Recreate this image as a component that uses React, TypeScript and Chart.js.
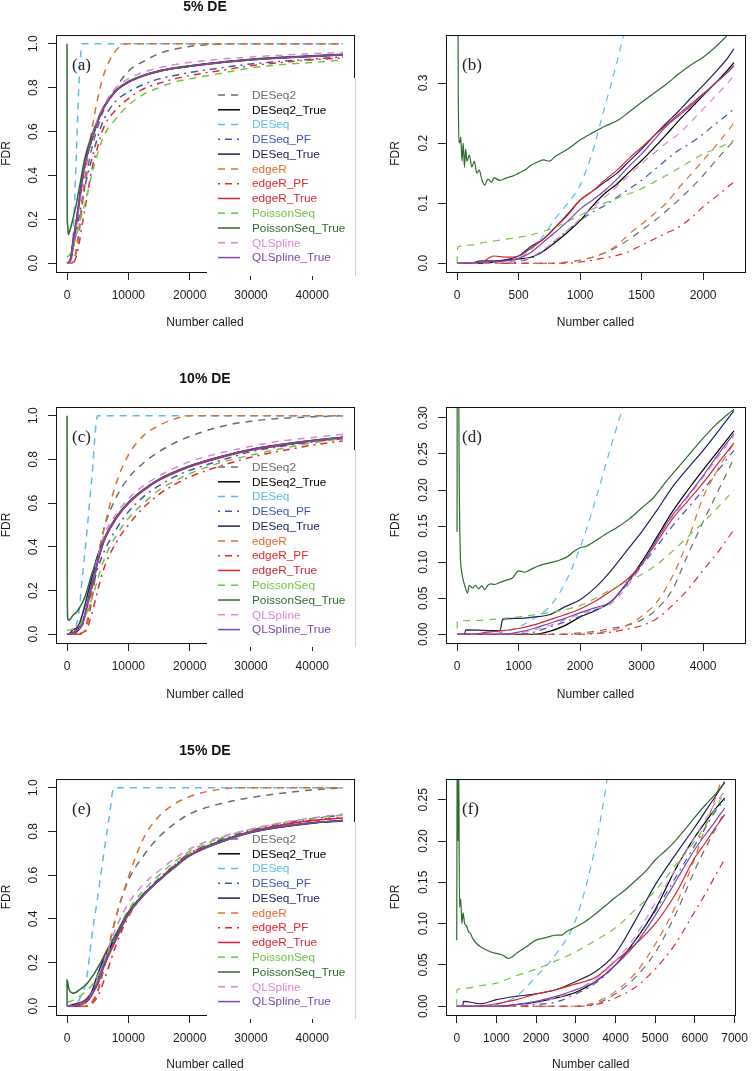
import React, { useEffect, useRef } from "react";
import { Chart, registerables } from "chart.js";

Chart.register(...registerables);
Chart.defaults.font.family = '"Liberation Sans", Arial, sans-serif';

// ---------- series names & styles ----------
const SERIES_NAMES = ["DESeq2", "DESeq2_True", "DESeq", "DESeq_PF", "DESeq_True", "edgeR", "edgeR_PF", "edgeR_True", "PoissonSeq", "PoissonSeq_True", "QLSpline", "QLSpline_True"];
const SERIES_COLORS = ["#6b6b6b", "#000000", "#5bbce8", "#3d56b2", "#1d2157", "#e26b2e", "#e8262c", "#d9252b", "#6cc644", "#2e6b30", "#dc84d8", "#7b48aa"];
const SERIES_STYLE = ["dash", "solid", "dash", "dotdash", "solid", "dash", "dotdash", "solid", "dash", "solid", "dash", "solid"];

// ---------- tick values ----------
const LEFT_X_TICKS = [0, 10000, 20000, 30000, 40000];
const LEFT_Y_TICKS = [0, 0.2, 0.4, 0.6, 0.8, 1.0];
const B_X_TICKS = [0, 500, 1000, 1500, 2000];
const B_Y_TICKS = [0, 0.1, 0.2, 0.3];
const D_X_TICKS = [0, 1000, 2000, 3000, 4000];
const D_Y_TICKS = [0, 0.05, 0.1, 0.15, 0.2, 0.25, 0.3];
const F_X_TICKS = [0, 1000, 2000, 3000, 4000, 5000, 6000, 7000];
const F_Y_TICKS = [0, 0.05, 0.1, 0.15, 0.2, 0.25];

// ---------- shared x grids ----------
const L_X = [0, 500, 1000, 1500, 2000, 2500, 3000, 4000, 5000, 6000, 8000, 10000, 12500, 15000, 17500, 20000, 25000, 30000, 35000, 40000, 45000];
const B_X = [0, 100, 200, 300, 400, 500, 600, 700, 800, 900, 1000, 1100, 1200, 1300, 1400, 1500, 1600, 1700, 1800, 1900, 2000, 2100, 2200, 2250];
const D_X = [0, 250, 500, 750, 1000, 1250, 1500, 1750, 2000, 2250, 2500, 2750, 3000, 3250, 3500, 3750, 4000, 4250, 4500];
const F_X = [0, 250, 500, 750, 1000, 1500, 2000, 2500, 3000, 3500, 4000, 4500, 5000, 5500, 6000, 6250, 6500, 6750];

// ---------- panel (a): 5% DE ----------
const a_DESeq2 = [0, 0, 0.005, 0.05, 0.146, 0.27, 0.37, 0.52, 0.62, 0.7, 0.8, 0.875, 0.92, 0.955, 0.975, 0.988, 0.998, 1, 1, 1, 1];
const a_DESeq2_True = [0, 0.01, 0.071, 0.171, 0.279, 0.38, 0.46, 0.56, 0.645, 0.71, 0.785, 0.825, 0.855, 0.875, 0.888, 0.898, 0.915, 0.927, 0.936, 0.943, 0.95];
const a_DESeq = [0, 0.008, 0.13, 0.48, 0.85, 1, 1, 1, 1, 1, 1, 1, 1, 1, 1, 1, 1, 1, 1, 1, 1];
const a_DESeq_PF = [0, 0.003, 0.071, 0.138, 0.215, 0.29, 0.36, 0.47, 0.575, 0.655, 0.74, 0.78, 0.815, 0.84, 0.855, 0.869, 0.89, 0.908, 0.92, 0.93, 0.94];
const a_DESeq_True = [0, 0.012, 0.105, 0.19, 0.296, 0.4, 0.475, 0.565, 0.648, 0.712, 0.787, 0.826, 0.856, 0.876, 0.889, 0.899, 0.916, 0.928, 0.937, 0.944, 0.951];
const a_edgeR = [0, 0, 0.005, 0.065, 0.171, 0.3, 0.41, 0.6, 0.75, 0.86, 0.97, 1, 1, 1, 1, 1, 1, 1, 1, 1, 1];
const a_edgeR_PF = [0, 0, 0.002, 0.03, 0.094, 0.18, 0.26, 0.42, 0.53, 0.62, 0.7, 0.75, 0.795, 0.82, 0.84, 0.855, 0.878, 0.9, 0.915, 0.927, 0.935];
const a_edgeR_True = [0, 0.012, 0.105, 0.193, 0.282, 0.38, 0.46, 0.558, 0.645, 0.709, 0.785, 0.824, 0.854, 0.874, 0.887, 0.897, 0.914, 0.926, 0.935, 0.942, 0.949];
const a_PoissonSeq = [0.027, 0.043, 0.08, 0.124, 0.182, 0.23, 0.28, 0.4, 0.5, 0.58, 0.66, 0.72, 0.77, 0.8, 0.825, 0.84, 0.865, 0.89, 0.905, 0.915, 0.925];
const a_PoissonSeq_True_X = [0, 20, 60, 120, 225, 400, 600, 1000, 1500, 2000, 2500, 3000, 4000, 5000, 6000, 8000, 10000, 15000, 20000, 30000, 40000, 45000];
const a_PoissonSeq_True = [1.0, 0.27, 0.18, 0.17, 0.13, 0.142, 0.163, 0.205, 0.268, 0.343, 0.42, 0.49, 0.58, 0.655, 0.715, 0.788, 0.828, 0.877, 0.9, 0.93, 0.945, 0.952];
const a_QLSpline = [0, 0.004, 0.074, 0.166, 0.257, 0.36, 0.45, 0.56, 0.655, 0.72, 0.8, 0.84, 0.87, 0.89, 0.905, 0.915, 0.93, 0.94, 0.948, 0.955, 0.96];
const a_QLSpline_True = [0, 0.008, 0.09, 0.182, 0.28, 0.38, 0.46, 0.558, 0.645, 0.71, 0.786, 0.825, 0.855, 0.875, 0.888, 0.898, 0.915, 0.927, 0.936, 0.943, 0.95];

// ---------- panel (b): 5% DE zoom ----------
const b_DESeq2 = [0, 0, 0, 0, 0, 0, 0, 0, 0, 0.002, 0.005, 0.01, 0.017, 0.027, 0.04, 0.055, 0.07, 0.087, 0.105, 0.125, 0.146, 0.17, 0.193, 0.204];
const b_DESeq2_True = [0, 0, 0, 0.002, 0.005, 0.007, 0.01, 0.02, 0.035, 0.052, 0.071, 0.095, 0.116, 0.132, 0.152, 0.171, 0.192, 0.214, 0.237, 0.258, 0.279, 0.3, 0.322, 0.334];
const b_DESeq = [0, 0, 0, 0, 0, 0.008, 0.022, 0.045, 0.075, 0.1, 0.13, 0.185, 0.26, 0.335, 0.42, 0.5, 0.58, 0.66, 0.73, 0.8, 0.85, 0.92, 0.98, 1.0];
const b_DESeq_PF = [0, 0, 0, 0, 0, 0.003, 0.008, 0.02, 0.038, 0.055, 0.071, 0.085, 0.096, 0.11, 0.124, 0.138, 0.155, 0.172, 0.188, 0.2, 0.215, 0.232, 0.248, 0.257];
const b_DESeq_True = [0, 0, 0.004, 0.004, 0.006, 0.012, 0.028, 0.04, 0.06, 0.082, 0.105, 0.12, 0.135, 0.15, 0.17, 0.19, 0.212, 0.233, 0.253, 0.275, 0.296, 0.318, 0.342, 0.357];
const b_edgeR = [0, 0, 0, 0, 0, 0, 0, 0, 0, 0.002, 0.005, 0.01, 0.018, 0.03, 0.049, 0.065, 0.082, 0.1, 0.125, 0.148, 0.171, 0.195, 0.22, 0.234];
const b_edgeR_PF = [0, 0, 0, 0, 0, 0, 0, 0, 0, 0, 0.002, 0.005, 0.009, 0.013, 0.02, 0.03, 0.04, 0.05, 0.06, 0.075, 0.094, 0.11, 0.127, 0.135];
const b_edgeR_True = [0, 0, 0.002, 0.012, 0.01, 0.012, 0.025, 0.04, 0.06, 0.08, 0.105, 0.12, 0.138, 0.155, 0.175, 0.193, 0.212, 0.23, 0.248, 0.265, 0.282, 0.3, 0.318, 0.329];
const b_PoissonSeq_X = [0, 5, 100, 200, 300, 400, 500, 600, 700, 800, 900, 1000, 1100, 1200, 1300, 1400, 1500, 1600, 1700, 1800, 1900, 2000, 2100, 2250];
const b_PoissonSeq = [0, 0.027, 0.03, 0.034, 0.037, 0.04, 0.043, 0.047, 0.053, 0.06, 0.07, 0.08, 0.09, 0.1, 0.108, 0.116, 0.124, 0.135, 0.146, 0.158, 0.17, 0.182, 0.19, 0.204];
const b_PoissonSeq_True_X = [0, 5, 10, 20, 30, 40, 50, 60, 70, 80, 100, 120, 140, 160, 180, 200, 225, 250, 280, 300, 350, 400, 450, 500, 550, 600, 650, 700, 750, 800, 900, 1000, 1100, 1200, 1300, 1400, 1500, 1600, 1700, 1800, 1900, 2000, 2100, 2200, 2250];
const b_PoissonSeq_True = [1.0, 0.6, 0.27, 0.2, 0.21, 0.17, 0.2, 0.16, 0.19, 0.17, 0.18, 0.16, 0.17, 0.15, 0.155, 0.14, 0.13, 0.14, 0.135, 0.142, 0.138, 0.142, 0.145, 0.15, 0.155, 0.163, 0.168, 0.172, 0.17, 0.178, 0.19, 0.205, 0.217, 0.228, 0.237, 0.252, 0.268, 0.283, 0.298, 0.315, 0.33, 0.343, 0.36, 0.38, 0.39];
const b_QLSpline = [0, 0, 0, 0, 0.002, 0.004, 0.01, 0.022, 0.038, 0.055, 0.074, 0.092, 0.11, 0.128, 0.147, 0.166, 0.183, 0.2, 0.215, 0.235, 0.257, 0.278, 0.3, 0.312];
const b_QLSpline_True = [0, 0, 0.002, 0.003, 0.004, 0.008, 0.018, 0.035, 0.052, 0.07, 0.09, 0.105, 0.121, 0.14, 0.162, 0.182, 0.205, 0.228, 0.245, 0.262, 0.28, 0.3, 0.318, 0.329];

// ---------- panel (c): 10% DE ----------
const c_DESeq2 = [0, 0, 0, 0, 0.003, 0.008, 0.02, 0.15, 0.34, 0.48, 0.625, 0.715, 0.785, 0.835, 0.875, 0.905, 0.95, 0.975, 0.988, 0.995, 1.0];
const c_DESeq2_True = [0, 0, 0, 0.01, 0.024, 0.045, 0.1, 0.225, 0.335, 0.425, 0.53, 0.6, 0.66, 0.707, 0.74, 0.768, 0.81, 0.844, 0.866, 0.885, 0.9];
const c_DESeq = [0, 0.002, 0.01, 0.038, 0.12, 0.26, 0.4, 0.7, 1, 1, 1, 1, 1, 1, 1, 1, 1, 1, 1, 1, 1];
const c_DESeq_PF = [0, 0, 0, 0.01, 0.025, 0.045, 0.095, 0.2, 0.3, 0.375, 0.48, 0.56, 0.63, 0.68, 0.72, 0.75, 0.795, 0.835, 0.86, 0.88, 0.895];
const c_DESeq_True = [0, 0.005, 0.022, 0.027, 0.048, 0.09, 0.142, 0.255, 0.36, 0.435, 0.535, 0.603, 0.663, 0.709, 0.742, 0.77, 0.812, 0.846, 0.868, 0.887, 0.902];
const c_edgeR = [0, 0, 0, 0, 0, 0.005, 0.025, 0.19, 0.35, 0.48, 0.69, 0.82, 0.91, 0.955, 0.985, 1, 1, 1, 1, 1, 1];
const c_edgeR_PF = [0, 0, 0, 0, 0, 0.003, 0.012, 0.089, 0.2, 0.3, 0.42, 0.5, 0.58, 0.64, 0.685, 0.72, 0.77, 0.81, 0.84, 0.865, 0.885];
const c_edgeR_True = [0, 0.003, 0.008, 0.02, 0.035, 0.06, 0.097, 0.21, 0.33, 0.425, 0.528, 0.598, 0.658, 0.705, 0.738, 0.766, 0.808, 0.842, 0.864, 0.883, 0.898];
const c_PoissonSeq = [0.018, 0.02, 0.024, 0.03, 0.04, 0.062, 0.085, 0.16, 0.25, 0.34, 0.45, 0.53, 0.6, 0.66, 0.7, 0.735, 0.785, 0.82, 0.85, 0.875, 0.895];
const c_PoissonSeq_True_X = [0, 30, 100, 200, 500, 1000, 1500, 2000, 2500, 3000, 3500, 4000, 4500, 5000, 6000, 8000, 10000, 15000, 20000, 30000, 40000, 45000];
const c_PoissonSeq_True = [1.0, 0.3, 0.075, 0.065, 0.068, 0.088, 0.099, 0.12, 0.144, 0.177, 0.223, 0.272, 0.312, 0.36, 0.435, 0.535, 0.603, 0.709, 0.77, 0.846, 0.887, 0.902];
const c_QLSpline = [0, 0, 0.002, 0.012, 0.028, 0.042, 0.095, 0.218, 0.35, 0.45, 0.55, 0.62, 0.68, 0.725, 0.76, 0.79, 0.83, 0.86, 0.885, 0.9, 0.915];
const c_QLSpline_True = [0, 0, 0.003, 0.015, 0.03, 0.045, 0.097, 0.22, 0.335, 0.43, 0.532, 0.601, 0.661, 0.708, 0.741, 0.769, 0.811, 0.845, 0.867, 0.886, 0.901];

// ---------- panel (d): 10% DE zoom ----------
const d_DESeq2 = [0, 0, 0, 0, 0, 0, 0, 0, 0.002, 0.004, 0.008, 0.012, 0.02, 0.035, 0.062, 0.11, 0.156, 0.2, 0.244];
const d_DESeq2_True = [0, 0, 0, 0, 0, 0, 0.004, 0.012, 0.024, 0.033, 0.045, 0.07, 0.1, 0.135, 0.17, 0.2, 0.228, 0.255, 0.282];
const d_DESeq = [0, 0, 0, 0.003, 0.01, 0.022, 0.038, 0.07, 0.12, 0.186, 0.26, 0.33, 0.4, 0.48, 0.55, 0.63, 0.7, 0.78, 0.85];
const d_DESeq_PF = [0, 0, 0, 0, 0, 0.003, 0.01, 0.017, 0.025, 0.034, 0.045, 0.068, 0.095, 0.122, 0.15, 0.175, 0.2, 0.228, 0.255];
const d_DESeq_True_X = [0, 120, 140, 700, 730, 760, 1000, 1250, 1500, 1750, 2000, 2250, 2500, 2750, 3000, 3250, 3500, 3750, 4000, 4250, 4500];
const d_DESeq_True = [0, 0, 0.006, 0.005, 0.018, 0.021, 0.022, 0.024, 0.027, 0.038, 0.048, 0.065, 0.088, 0.115, 0.142, 0.172, 0.204, 0.23, 0.255, 0.282, 0.31];
const d_edgeR = [0, 0, 0, 0, 0, 0, 0, 0, 0, 0.002, 0.005, 0.012, 0.025, 0.045, 0.08, 0.13, 0.19, 0.23, 0.265];
const d_edgeR_PF = [0, 0, 0, 0, 0, 0, 0, 0, 0, 0.001, 0.003, 0.007, 0.012, 0.022, 0.04, 0.062, 0.089, 0.115, 0.145];
const d_edgeR_True = [0, 0, 0.003, 0.005, 0.008, 0.013, 0.02, 0.027, 0.035, 0.046, 0.06, 0.075, 0.097, 0.128, 0.16, 0.185, 0.21, 0.238, 0.265];
const d_PoissonSeq_X = [0, 5, 250, 500, 750, 1000, 1250, 1500, 1750, 2000, 2250, 2500, 2750, 3000, 3250, 3500, 3750, 4000, 4250, 4500];
const d_PoissonSeq = [0.008, 0.018, 0.019, 0.02, 0.022, 0.024, 0.027, 0.03, 0.034, 0.04, 0.05, 0.062, 0.072, 0.083, 0.097, 0.115, 0.135, 0.155, 0.177, 0.2];
const d_PoissonSeq_True_X = [0, 10, 30, 50, 70, 100, 130, 170, 200, 250, 300, 350, 400, 450, 500, 550, 600, 700, 800, 900, 1000, 1100, 1200, 1300, 1400, 1500, 1600, 1700, 1800, 1900, 2000, 2100, 2200, 2400, 2600, 2800, 3000, 3200, 3400, 3600, 3800, 4000, 4200, 4400, 4500];
const d_PoissonSeq_True = [0.142, 1.0, 0.3, 0.12, 0.09, 0.075, 0.066, 0.057, 0.068, 0.064, 0.068, 0.063, 0.067, 0.062, 0.068, 0.07, 0.069, 0.072, 0.075, 0.078, 0.088, 0.086, 0.09, 0.094, 0.097, 0.099, 0.101, 0.104, 0.108, 0.115, 0.12, 0.122, 0.127, 0.138, 0.148, 0.16, 0.175, 0.19, 0.212, 0.232, 0.252, 0.272, 0.29, 0.305, 0.312];
const d_QLSpline = [0, 0, 0, 0, 0.002, 0.006, 0.012, 0.02, 0.028, 0.035, 0.042, 0.065, 0.095, 0.13, 0.163, 0.19, 0.218, 0.247, 0.275];
const d_QLSpline_True = [0, 0, 0, 0, 0.003, 0.008, 0.015, 0.022, 0.03, 0.037, 0.045, 0.07, 0.097, 0.132, 0.165, 0.192, 0.22, 0.25, 0.278];

// ---------- panel (e): 15% DE ----------
const e_DESeq2 = [0, 0, 0, 0, 0, 0, 0, 0.015, 0.065, 0.17, 0.41, 0.576, 0.69, 0.775, 0.835, 0.88, 0.927, 0.955, 0.975, 0.99, 1.0];
const e_DESeq2_True = [0, 0, 0, 0.002, 0.005, 0.01, 0.017, 0.05, 0.117, 0.205, 0.32, 0.425, 0.51, 0.576, 0.635, 0.69, 0.752, 0.797, 0.822, 0.84, 0.85];
const e_DESeq_X = [0, 1000, 1500, 2000, 2500, 3000, 3500, 4000, 5000, 6000, 7000, 7600, 45000];
const e_DESeq = [0, 0, 0.01, 0.03, 0.062, 0.1, 0.19, 0.31, 0.5, 0.7, 0.89, 1.0, 1.0];
const e_DESeq_PF = [0, 0, 0, 0, 0.002, 0.005, 0.015, 0.05, 0.115, 0.195, 0.315, 0.425, 0.515, 0.585, 0.645, 0.7, 0.76, 0.805, 0.835, 0.858, 0.875];
const e_DESeq_True = [0, 0.004, 0.008, 0.012, 0.015, 0.02, 0.03, 0.064, 0.147, 0.217, 0.33, 0.43, 0.513, 0.578, 0.636, 0.69, 0.75, 0.795, 0.82, 0.838, 0.848];
const e_edgeR = [0, 0, 0, 0, 0, 0, 0, 0.018, 0.075, 0.18, 0.41, 0.59, 0.77, 0.87, 0.925, 0.96, 0.993, 1, 1, 1, 1];
const e_edgeR_PF = [0, 0, 0, 0, 0, 0, 0, 0.01, 0.045, 0.115, 0.28, 0.41, 0.51, 0.58, 0.645, 0.7, 0.755, 0.8, 0.83, 0.85, 0.865];
const e_edgeR_True = [0, 0, 0.003, 0.008, 0.015, 0.02, 0.027, 0.055, 0.1, 0.18, 0.305, 0.42, 0.508, 0.576, 0.636, 0.69, 0.755, 0.8, 0.83, 0.85, 0.862];
const e_PoissonSeq = [0.02, 0.022, 0.028, 0.037, 0.045, 0.055, 0.066, 0.095, 0.14, 0.2, 0.33, 0.44, 0.53, 0.6, 0.66, 0.71, 0.77, 0.81, 0.84, 0.86, 0.875];
const e_PoissonSeq_True_X = [0, 1, 300, 1000, 1500, 2000, 2500, 3000, 3500, 4000, 4500, 5000, 5500, 6000, 6750, 8000, 10000, 15000, 20000, 30000, 40000, 45000];
const e_PoissonSeq_True = [0, 0.12, 0.08, 0.06, 0.064, 0.075, 0.085, 0.096, 0.112, 0.132, 0.152, 0.177, 0.2, 0.229, 0.27, 0.33, 0.43, 0.578, 0.69, 0.797, 0.84, 0.85];
const e_QLSpline = [0, 0, 0, 0.002, 0.005, 0.01, 0.02, 0.055, 0.125, 0.205, 0.36, 0.47, 0.56, 0.62, 0.675, 0.72, 0.775, 0.81, 0.84, 0.862, 0.88];
const e_QLSpline_True = [0, 0, 0.001, 0.002, 0.006, 0.012, 0.02, 0.05, 0.11, 0.19, 0.31, 0.42, 0.508, 0.575, 0.635, 0.688, 0.75, 0.796, 0.822, 0.84, 0.85];

// ---------- panel (f): 15% DE zoom ----------
const f_DESeq2 = [0, 0, 0, 0, 0, 0, 0, 0, 0, 0.003, 0.015, 0.035, 0.065, 0.11, 0.165, 0.19, 0.213, 0.235];
const f_DESeq2_True = [0, 0, 0, 0, 0, 0.002, 0.005, 0.01, 0.017, 0.03, 0.05, 0.08, 0.117, 0.165, 0.205, 0.222, 0.238, 0.252];
const f_DESeq = [0, 0, 0, 0, 0.002, 0.012, 0.036, 0.063, 0.105, 0.195, 0.33, 0.42, 0.5, 0.6, 0.7, 0.75, 0.8, 0.85];
const f_DESeq_PF = [0, 0, 0, 0, 0, 0, 0.002, 0.005, 0.015, 0.028, 0.05, 0.08, 0.115, 0.155, 0.195, 0.215, 0.235, 0.25];
const f_DESeq_True_X = [0, 150, 170, 600, 1000, 1500, 2000, 2500, 3000, 3500, 4000, 4500, 5000, 5500, 6000, 6250, 6500, 6750];
const f_DESeq_True = [0, 0, 0.006, 0.003, 0.008, 0.012, 0.015, 0.02, 0.03, 0.042, 0.064, 0.104, 0.147, 0.183, 0.217, 0.235, 0.253, 0.272];
const f_edgeR = [0, 0, 0, 0, 0, 0, 0, 0, 0, 0.005, 0.018, 0.04, 0.075, 0.12, 0.18, 0.215, 0.25, 0.285];
const f_edgeR_PF = [0, 0, 0, 0, 0, 0, 0, 0, 0, 0.002, 0.01, 0.023, 0.045, 0.075, 0.115, 0.135, 0.157, 0.178];
const f_edgeR_True = [0, 0, 0, 0.001, 0.003, 0.008, 0.015, 0.02, 0.027, 0.035, 0.055, 0.075, 0.1, 0.135, 0.18, 0.197, 0.215, 0.232];
const f_PoissonSeq_X = [0, 5, 250, 500, 750, 1000, 1500, 2000, 2500, 3000, 3500, 4000, 4500, 5000, 5500, 6000, 6250, 6500, 6750];
const f_PoissonSeq = [0, 0.02, 0.022, 0.024, 0.026, 0.028, 0.037, 0.045, 0.055, 0.066, 0.08, 0.095, 0.117, 0.14, 0.17, 0.2, 0.218, 0.238, 0.26];
const f_PoissonSeq_True_X = [0, 15, 30, 50, 70, 100, 130, 160, 200, 250, 300, 350, 400, 500, 600, 750, 900, 1000, 1150, 1300, 1400, 1500, 1750, 2000, 2250, 2500, 2650, 2750, 3000, 3250, 3500, 3750, 4000, 4250, 4500, 4750, 5000, 5250, 5500, 5750, 6000, 6250, 6500, 6750];
const f_PoissonSeq_True = [0.08, 0.35, 0.2, 0.3, 0.12, 0.13, 0.1, 0.113, 0.1, 0.097, 0.09, 0.088, 0.082, 0.076, 0.072, 0.068, 0.065, 0.064, 0.062, 0.058, 0.06, 0.064, 0.072, 0.08, 0.083, 0.086, 0.086, 0.09, 0.096, 0.103, 0.112, 0.122, 0.132, 0.141, 0.152, 0.163, 0.177, 0.188, 0.2, 0.214, 0.229, 0.243, 0.256, 0.27];
const f_QLSpline = [0, 0, 0, 0, 0, 0.001, 0.004, 0.01, 0.02, 0.033, 0.055, 0.085, 0.125, 0.165, 0.205, 0.225, 0.245, 0.26];
const f_QLSpline_True = [0, 0, 0, 0, 0, 0.002, 0.006, 0.012, 0.02, 0.03, 0.05, 0.075, 0.11, 0.15, 0.19, 0.207, 0.223, 0.24];

// ---------- layout / style (not data) ----------
const DASH: Record<string, number[]> = { solid: [], dash: [7, 6], dotdash: [2, 5, 7, 5] };
const TEXT = "#1a1a1a";
const COLS = [
  { cx: 0, L: 56, R: 354, yTitlePad: 1 },
  { cx: 378, L: 446, R: 745, yTitlePad: 11.5 },
];
const ROWS = [
  { cy: 0, ch: 335, T: 35, B: 272, xTitlePad: 6 },
  { cy: 335, ch: 370, T: 407, B: 643, xTitlePad: 4 },
  { cy: 705, ch: 366, T: 779, B: 1015, xTitlePad: 0 },
];

type SeriesPair = [number[], number[]];
interface PanelDef {
  tag: string; title?: string; legend: boolean; col: number; row: number;
  xRange: [number, number]; yRange: [number, number];
  xTicks: number[]; yTicks: number[]; yDigits: number;
  series: SeriesPair[];
}

const PANELS: PanelDef[] = [
  {
    tag: "(a)", title: "5% DE", legend: true, col: 0, row: 0,
    xRange: [-1800, 46800], yRange: [-0.04, 1.04], xTicks: LEFT_X_TICKS, yTicks: LEFT_Y_TICKS, yDigits: 1,
    series: [[L_X, a_DESeq2], [L_X, a_DESeq2_True], [L_X, a_DESeq], [L_X, a_DESeq_PF], [L_X, a_DESeq_True], [L_X, a_edgeR], [L_X, a_edgeR_PF], [L_X, a_edgeR_True], [L_X, a_PoissonSeq], [a_PoissonSeq_True_X, a_PoissonSeq_True], [L_X, a_QLSpline], [L_X, a_QLSpline_True]],
  },
  {
    tag: "(b)", legend: false, col: 1, row: 0,
    xRange: [-90, 2340], yRange: [-0.0146, 0.3799], xTicks: B_X_TICKS, yTicks: B_Y_TICKS, yDigits: 1,
    series: [[B_X, b_DESeq2], [B_X, b_DESeq2_True], [B_X, b_DESeq], [B_X, b_DESeq_PF], [B_X, b_DESeq_True], [B_X, b_edgeR], [B_X, b_edgeR_PF], [B_X, b_edgeR_True], [b_PoissonSeq_X, b_PoissonSeq], [b_PoissonSeq_True_X, b_PoissonSeq_True], [B_X, b_QLSpline], [B_X, b_QLSpline_True]],
  },
  {
    tag: "(c)", title: "10% DE", legend: true, col: 0, row: 1,
    xRange: [-1800, 46800], yRange: [-0.04, 1.04], xTicks: LEFT_X_TICKS, yTicks: LEFT_Y_TICKS, yDigits: 1,
    series: [[L_X, c_DESeq2], [L_X, c_DESeq2_True], [L_X, c_DESeq], [L_X, c_DESeq_PF], [L_X, c_DESeq_True], [L_X, c_edgeR], [L_X, c_edgeR_PF], [L_X, c_edgeR_True], [L_X, c_PoissonSeq], [c_PoissonSeq_True_X, c_PoissonSeq_True], [L_X, c_QLSpline], [L_X, c_QLSpline_True]],
  },
  {
    tag: "(d)", legend: false, col: 1, row: 1,
    xRange: [-180, 4680], yRange: [-0.0121, 0.3151], xTicks: D_X_TICKS, yTicks: D_Y_TICKS, yDigits: 2,
    series: [[D_X, d_DESeq2], [D_X, d_DESeq2_True], [D_X, d_DESeq], [D_X, d_DESeq_PF], [d_DESeq_True_X, d_DESeq_True], [D_X, d_edgeR], [D_X, d_edgeR_PF], [D_X, d_edgeR_True], [d_PoissonSeq_X, d_PoissonSeq], [d_PoissonSeq_True_X, d_PoissonSeq_True], [D_X, d_QLSpline], [D_X, d_QLSpline_True]],
  },
  {
    tag: "(e)", title: "15% DE", legend: true, col: 0, row: 2,
    xRange: [-1800, 46800], yRange: [-0.04, 1.04], xTicks: LEFT_X_TICKS, yTicks: LEFT_Y_TICKS, yDigits: 1,
    series: [[L_X, e_DESeq2], [L_X, e_DESeq2_True], [e_DESeq_X, e_DESeq], [L_X, e_DESeq_PF], [L_X, e_DESeq_True], [L_X, e_edgeR], [L_X, e_edgeR_PF], [L_X, e_edgeR_True], [L_X, e_PoissonSeq], [e_PoissonSeq_True_X, e_PoissonSeq_True], [L_X, e_QLSpline], [L_X, e_QLSpline_True]],
  },
  {
    tag: "(f)", legend: false, col: 1, row: 2,
    xRange: [-270, 7020], yRange: [-0.0106, 0.2751], xTicks: F_X_TICKS, yTicks: F_Y_TICKS, yDigits: 2,
    series: [[F_X, f_DESeq2], [F_X, f_DESeq2_True], [F_X, f_DESeq], [F_X, f_DESeq_PF], [f_DESeq_True_X, f_DESeq_True], [F_X, f_edgeR], [F_X, f_edgeR_PF], [F_X, f_edgeR_True], [f_PoissonSeq_X, f_PoissonSeq], [f_PoissonSeq_True_X, f_PoissonSeq_True], [F_X, f_QLSpline], [F_X, f_QLSpline_True]],
  },
];

const panelPlugin = {
  id: "rpanel",
  afterDraw(chart: any, _args: any, opts: any) {
    const ctx = chart.ctx as CanvasRenderingContext2D;
    const a = chart.chartArea;
    ctx.save();
    // frame box
    ctx.setLineDash([]);
    ctx.strokeStyle = "#111";
    ctx.lineWidth = 1;
    ctx.strokeRect(Math.round(a.left) + 0.5, Math.round(a.top) + 0.5, Math.round(a.right - a.left), Math.round(a.bottom - a.top));
    // panel tag
    ctx.fillStyle = "#222";
    ctx.font = '17px "Liberation Serif", serif';
    ctx.textAlign = "left";
    ctx.textBaseline = "middle";
    ctx.fillText(opts.tag, a.left + 16, a.top + 31);
    // title
    if (opts.title) {
      ctx.font = 'bold 14px "Liberation Sans", Arial, sans-serif';
      ctx.textAlign = "center";
      ctx.textBaseline = "alphabetic";
      ctx.fillStyle = "#111";
      ctx.fillText(opts.title, (a.left + a.right) / 2, a.top - 23.8);
    }
    // legend (the frame is interrupted behind it, the curves are not)
    if (opts.legend) {
      const bx = a.left + 151;
      ctx.fillStyle = "#ffffff";
      ctx.fillRect(a.right - 1, a.top + 43, 5, a.bottom + 4 - (a.top + 43));
      ctx.fillRect(bx, a.bottom - 1, a.right + 4 - bx, 5);
      ctx.strokeStyle = "#cfcfcf";
      ctx.beginPath();
      ctx.moveTo(a.right + 1.5, a.top + 43);
      ctx.lineTo(a.right + 1.5, a.bottom + 4);
      ctx.stroke();
      chart.data.datasets.forEach((ds: any, i: number) => {
        const y = a.top + 60 + i * 14.78;
        ctx.setLineDash(ds.borderDash || []);
        ctx.strokeStyle = ds.borderColor;
        ctx.lineWidth = 1.5;
        ctx.beginPath();
        ctx.moveTo(a.left + 162, y);
        ctx.lineTo(a.left + 184, y);
        ctx.stroke();
        ctx.setLineDash([]);
        ctx.fillStyle = ds.borderColor;
        ctx.font = '11.8px "Liberation Sans", Arial, sans-serif';
        ctx.textAlign = "left";
        ctx.textBaseline = "middle";
        ctx.fillText(ds.label, a.left + 196, y + 0.5);
      });
    }
    ctx.restore();
  },
};

function makeConfig(p: PanelDef): any {
  const col = COLS[p.col];
  const row = ROWS[p.row];
  const left = p.col === 0;
  return {
    type: "line",
    data: {
      datasets: p.series.map(([xs, ys], i) => ({
        label: SERIES_NAMES[i],
        data: xs.map((x, j) => ({ x, y: ys[j] })),
        borderColor: SERIES_COLORS[i],
        backgroundColor: SERIES_COLORS[i],
        borderDash: DASH[SERIES_STYLE[i]],
        borderWidth: left ? 1.5 : 1.2,
        pointRadius: 0,
        pointHoverRadius: 0,
        fill: false,
        cubicInterpolationMode: "monotone",
        order: SERIES_NAMES.length - i,
      })),
    },
    options: {
      responsive: false,
      animation: false,
      devicePixelRatio: 1,
      events: [],
      layout: { padding: { left: 0, top: row.T - row.cy, right: col.cx + 378 - col.R, bottom: 0 } },
      plugins: {
        legend: { display: false },
        tooltip: { enabled: false },
        title: { display: false },
        rpanel: { tag: p.tag, title: p.title, legend: p.legend },
      },
      scales: {
        x: {
          type: "linear",
          position: "bottom",
          min: p.xRange[0],
          max: p.xRange[1],
          afterBuildTicks: (s: any) => { s.ticks = p.xTicks.map((v) => ({ value: v })); },
          afterFit: (s: any) => { s.height = row.cy + row.ch - row.B; },
          ticks: { autoSkip: false, maxRotation: 0, minRotation: 0, padding: 8, color: TEXT, font: { size: 12 }, callback: (v: any) => String(v) },
          grid: { display: true, drawOnChartArea: false, drawTicks: true, tickLength: 8, color: "#222", lineWidth: 1 },
          border: { display: false },
          title: { display: true, text: "Number called", color: TEXT, font: { size: 12, lineHeight: 1 }, padding: { top: 0, bottom: row.xTitlePad } },
        },
        y: {
          type: "linear",
          position: "left",
          min: p.yRange[0],
          max: p.yRange[1],
          afterBuildTicks: (s: any) => { s.ticks = p.yTicks.map((v) => ({ value: v })); },
          afterFit: (s: any) => { s.width = col.L - col.cx; },
          ticks: { autoSkip: false, minRotation: 90, maxRotation: 90, crossAlign: "center", padding: p.yDigits === 1 ? 6 : 3, color: TEXT, font: { size: 12 }, callback: (v: any) => Number(v).toFixed(p.yDigits) },
          grid: { display: true, drawOnChartArea: false, drawTicks: true, tickLength: 8, color: "#222", lineWidth: 1 },
          border: { display: false },
          title: { display: true, text: "FDR", color: TEXT, font: { size: 12, lineHeight: 1 }, padding: { top: col.yTitlePad, bottom: 0 } },
        },
      },
    },
    plugins: [panelPlugin],
  };
}

function PanelChart({ p }: { p: PanelDef }) {
  const ref = useRef<HTMLCanvasElement | null>(null);
  const col = COLS[p.col];
  const row = ROWS[p.row];
  useEffect(() => {
    if (!ref.current) return;
    const chart = new Chart(ref.current, makeConfig(p));
    return () => chart.destroy();
  }, [p]);
  return (
    <canvas
      ref={ref}
      width={378}
      height={row.ch}
      style={{ position: "absolute", left: col.cx, top: row.cy, width: 378, height: row.ch }}
    />
  );
}

export default function App() {
  return (
    <div style={{ position: "absolute", left: 0, top: 0, width: 756, height: 1071, background: "#ffffff", overflow: "hidden" }}>
      {PANELS.map((p) => (
        <PanelChart key={p.tag} p={p} />
      ))}
    </div>
  );
}
